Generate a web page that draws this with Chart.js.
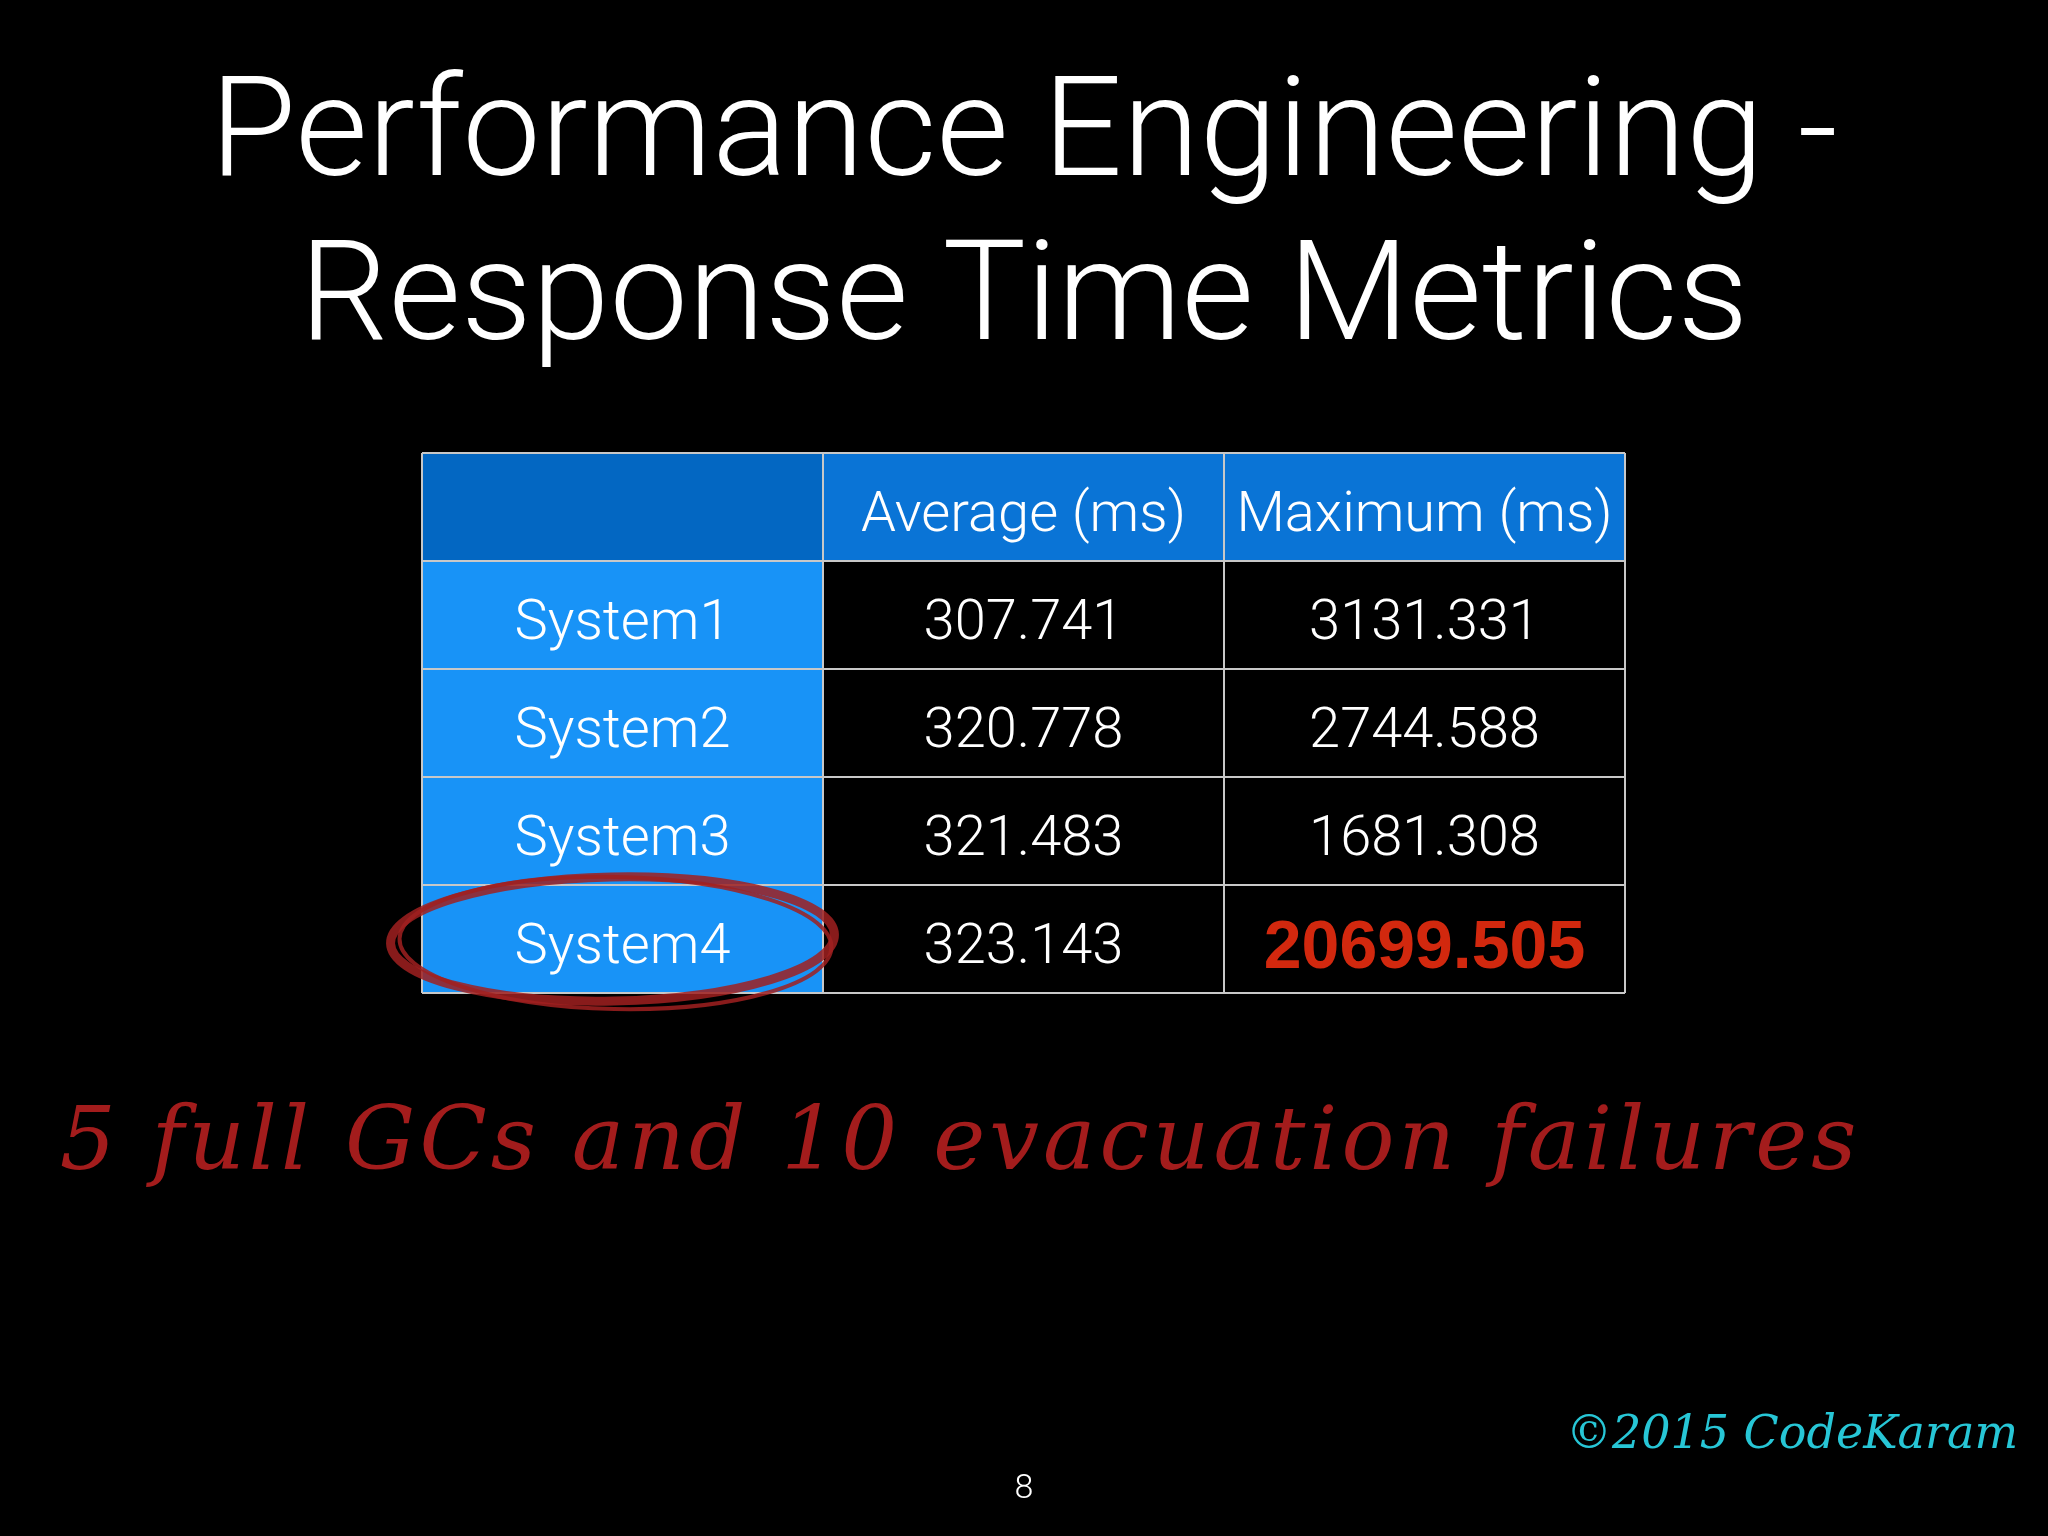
<!DOCTYPE html>
<html>
<head>
<meta charset="utf-8">
<script src="https://cdn.jsdelivr.net/npm/chart.js@4"></script>
<style>
  html, body { margin: 0; background: #000; }
  #tabla { display: block; }
</style>
</head>
<body>
<canvas id="tabla" width="2048" height="1536"></canvas>
<script>
const columnas = ["", "Average (ms)", "Maximum (ms)"];
const sistemas = ["System1", "System2", "System3", "System4"];
const promedios = ["307.741", "320.778", "321.483", "323.143"];
const maximos = ["3131.331", "2744.588", "1681.308", "20699.505"];
const destacado = 3;

const fuente = "Roboto, 'Liberation Sans', sans-serif";

// dibuja la tabla usando las escalas del grafico
const tablaPlugin = {
  id: "tabla",
  beforeDraw(chart) {
    const ctx = chart.ctx;
    ctx.save();
    ctx.fillStyle = "#000";
    ctx.fillRect(0, 0, chart.width, chart.height);
    ctx.restore();
  },
  afterDatasetsDraw(chart) {
    const ctx = chart.ctx;
    const x = chart.scales.x;
    const y = chart.scales.y;
    const celda = (c, f, fondo) => {
      const x0 = x.getPixelForValue(c), x1 = x.getPixelForValue(c + 1);
      const y0 = y.getPixelForValue(f), y1 = y.getPixelForValue(f + 1);
      ctx.fillStyle = fondo;
      ctx.fillRect(x0, y0, x1 - x0, y1 - y0);
      return { cx: (x0 + x1) / 2, cy: (y0 + y1) / 2 };
    };
    const texto = (t, p, color, font) => {
      ctx.fillStyle = color;
      ctx.font = font;
      ctx.textAlign = "center";
      ctx.textBaseline = "middle";
      ctx.fillText(t, p.cx, p.cy + 10);
    };
    ctx.save();
    const fNormal = "300 56px " + fuente;
    columnas.forEach((col, i) => {
      const p = celda(i, 0, i === 0 ? "#0367c2" : "#0a74d6");
      texto(col, p, "#fff", fNormal);
    });
    sistemas.forEach((s, i) => {
      texto(s, celda(0, i + 1, "#1893f7"), "#fff", fNormal);
      texto(promedios[i], celda(1, i + 1, "#000"), "#fff", fNormal);
      const p = celda(2, i + 1, "#000");
      if (i === destacado) texto(maximos[i], p, "#d2280e", "bold 68px 'Liberation Sans', sans-serif");
      else texto(maximos[i], p, "#fff", fNormal);
    });
    // lineas de la cuadricula
    ctx.strokeStyle = "#c8c8c8";
    ctx.lineWidth = 2;
    for (let c = 0; c <= columnas.length; c++) {
      const px = x.getPixelForValue(c);
      ctx.beginPath(); ctx.moveTo(px, y.top); ctx.lineTo(px, y.bottom); ctx.stroke();
    }
    for (let f = 0; f <= sistemas.length + 1; f++) {
      const py = y.getPixelForValue(f);
      ctx.beginPath(); ctx.moveTo(x.left, py); ctx.lineTo(x.right, py); ctx.stroke();
    }
    // circulo rojo alrededor del System4
    const ex = (x.getPixelForValue(0) + x.getPixelForValue(1)) / 2 - 10;
    const ey = (y.getPixelForValue(destacado + 1) + y.getPixelForValue(destacado + 2)) / 2;
    ctx.strokeStyle = "rgba(160,32,32,0.85)";
    ctx.lineWidth = 9;
    ctx.beginPath(); ctx.ellipse(ex, ey, 222, 62, -0.02, 0, Math.PI * 2); ctx.stroke();
    ctx.lineWidth = 4;
    ctx.beginPath(); ctx.ellipse(ex + 3, ey + 4, 216, 66, 0.02, 0, Math.PI * 2); ctx.stroke();

    // titulo y notas
    ctx.textAlign = "center";
    ctx.textBaseline = "middle";
    ctx.fillStyle = "#fff";
    ctx.font = "300 140px " + fuente;
    ctx.fillText("Performance Engineering -", 1024, 140);
    ctx.fillText("Response Time Metrics", 1024, 304);
    ctx.fillStyle = "#a31c1c";
    ctx.font = "italic 88px 'DejaVu Serif', serif";
    ctx.letterSpacing = "4px";
    ctx.fillText("5 full GCs and 10 evacuation failures", 960, 1146);
    ctx.letterSpacing = "0px";
    ctx.fillStyle = "#27c6d6";
    ctx.font = "italic 46px 'DejaVu Serif', serif";
    ctx.textAlign = "right";
    ctx.fillText("©2015 CodeKaram", 2018, 1436);
    ctx.fillStyle = "#fff";
    ctx.textAlign = "center";
    ctx.font = "300 34px " + fuente;
    ctx.fillText("8", 1024, 1489);
    ctx.restore();
  }
};

new Chart(document.querySelector("#tabla"), {
  type: "scatter",
  data: { datasets: [{ data: [], pointRadius: 0 }] },
  options: {
    responsive: false,
    animation: false,
    events: [],
    layout: { padding: { left: 422, right: 423, top: 453, bottom: 543 } },
    plugins: { legend: { display: false }, tooltip: { enabled: false } },
    scales: {
      x: { type: "linear", min: 0, max: columnas.length, display: false },
      y: { type: "linear", min: 0, max: sistemas.length + 1, reverse: true, display: false }
    }
  },
  plugins: [tablaPlugin]
});
</script>
</body>
</html>
